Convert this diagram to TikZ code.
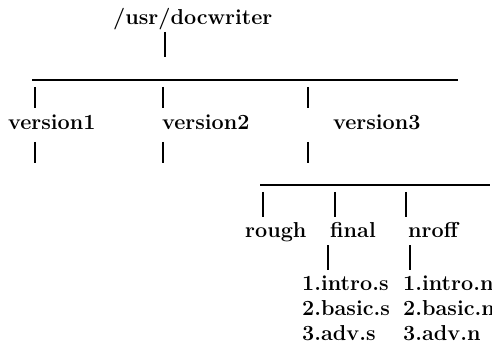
\documentclass[tikz,border=0pt]{standalone}
\usepackage{fontspec}
\begin{document}
\begin{tikzpicture}[x=1pt,y=-1pt,
  txt/.style={anchor=base west, inner sep=0pt, font=\fontsize{21.6}{25}\selectfont\bfseries},
  ln/.style={line width=1.2pt},
  tick/.style={line width=1.4pt}]
\useasboundingbox (0,0) rectangle (492,347);
% texts
\node[txt] (root) at (113,25) {/usr/docwriter};
\node[txt] (v1) at (8,130) {version1};
\node[txt] (v2) at (162,130) {version2};
\node[txt] (v3) at (333,130) {version3};
\node[txt] (rough) at (245,237) {rough};
\node[txt] (final) at (330,237) {final};
\node[txt] (nroff) at (408,237) {nroff};
\node[txt] (fs1) at (302,290) {1.intro.s};
\node[txt] (fs2) at (302,315) {2.basic.s};
\node[txt] (fs3) at (302,340) {3.adv.s};
\node[txt] (fn1) at (403,290) {1.intro.n};
\node[txt] (fn2) at (403,315) {2.basic.n};
\node[txt] (fn3) at (403,340) {3.adv.n};
% coordinates
\coordinate (r0) at (165,32); \coordinate (r1) at (165,57);
\coordinate (barA) at (32,80); \coordinate (barB) at (458,80);
\coordinate (barC) at (260,185); \coordinate (barD) at (490,185);
% lines
\draw[tick] (r0) -- (r1);
\draw[ln] (barA) -- (barB);
\foreach \x in {35,163,308} {
  \draw[tick] (\x,87) -- (\x,108);
  \draw[tick] (\x,142) -- (\x,163);
}
\draw[ln] (barC) -- (barD);
\foreach \x in {263,335,406} {
  \draw[tick] (\x,192) -- (\x,217);
}
\draw[tick] (328,245) -- (328,270);
\draw[tick] (410,245) -- (410,270);
\end{tikzpicture}
\end{document}
